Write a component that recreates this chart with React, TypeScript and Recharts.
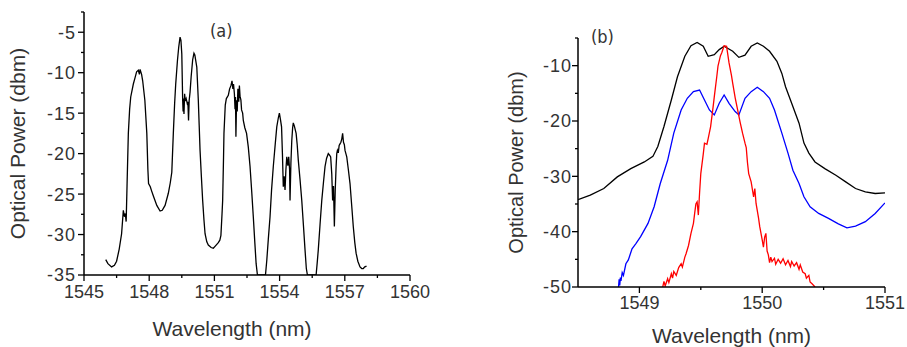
import React from 'react';
import { LineChart, Line, XAxis, YAxis } from 'recharts';

const FONT = 'Arial, "Liberation Sans", sans-serif';
const LETTER_FONT = '"DejaVu Sans Condensed", "Liberation Sans Narrow", Arial, sans-serif';

// ---- panel (a): spectrum ----
const wavelengthA = [
  1546.0, 1546.1, 1546.27, 1546.4, 1546.5, 1546.62, 1546.73, 1546.81, 1546.86, 1546.9, 1546.94, 1546.98,
  1547.04, 1547.1, 1547.15, 1547.27, 1547.35, 1547.42, 1547.5, 1547.55, 1547.58, 1547.65, 1547.7, 1547.8,
  1547.89, 1547.94, 1547.97, 1548.05, 1548.11, 1548.2, 1548.35, 1548.5, 1548.6, 1548.73, 1548.88, 1548.97,
  1549.04, 1549.11, 1549.17, 1549.22, 1549.3, 1549.36, 1549.42, 1549.46, 1549.5, 1549.54, 1549.56, 1549.58,
  1549.6, 1549.63, 1549.66, 1549.7, 1549.75, 1549.78, 1549.81, 1549.84, 1549.88, 1549.93, 1550.0, 1550.06,
  1550.1, 1550.19, 1550.26, 1550.3, 1550.34, 1550.4, 1550.46, 1550.52, 1550.57, 1550.65, 1550.72, 1550.85,
  1550.95, 1551.05, 1551.18, 1551.25, 1551.3, 1551.35, 1551.38, 1551.42, 1551.44, 1551.5, 1551.55, 1551.64,
  1551.7, 1551.76, 1551.81, 1551.85, 1551.88, 1551.92, 1551.95, 1551.97, 1551.99, 1552.02, 1552.05, 1552.08,
  1552.12, 1552.15, 1552.18, 1552.22, 1552.25, 1552.3, 1552.33, 1552.4, 1552.48, 1552.56, 1552.64, 1552.72,
  1552.79, 1552.86, 1552.92, 1552.98, 1553.35, 1553.41, 1553.48, 1553.56, 1553.63, 1553.71, 1553.8, 1553.87,
  1553.94, 1553.99, 1554.04, 1554.09, 1554.13, 1554.17, 1554.21, 1554.25, 1554.29, 1554.33, 1554.38, 1554.42,
  1554.46, 1554.48, 1554.52, 1554.56, 1554.6, 1554.63, 1554.68, 1554.76, 1554.81, 1554.86, 1554.94, 1555.02,
  1555.1, 1555.17, 1555.23, 1555.28, 1555.68, 1555.73, 1555.78, 1555.86, 1555.94, 1556.02, 1556.09, 1556.16,
  1556.24, 1556.3, 1556.35, 1556.4, 1556.44, 1556.48, 1556.52, 1556.56, 1556.6, 1556.63, 1556.66, 1556.7,
  1556.74, 1556.78, 1556.82, 1556.86, 1556.9, 1556.94, 1556.98, 1557.01, 1557.05, 1557.09, 1557.16, 1557.24,
  1557.32, 1557.39, 1557.46, 1557.52, 1557.6, 1557.7, 1557.78, 1557.85, 1557.92, 1558.0,
];
const powerA = [
  -33.1, -33.6, -34.0, -33.8, -33.3, -31.8, -29.9, -27.0, -27.8, -27.4, -28.4, -24.0,
  -17.5, -14.5, -13.0, -11.4, -10.6, -9.9, -9.7, -10.2, -9.6, -10.2, -11.0, -13.4,
  -17.5, -22.0, -23.7, -24.1, -24.6, -25.3, -26.4, -27.1, -27.0, -26.4, -24.9, -23.6,
  -22.3, -17.5, -13.8, -11.4, -8.5, -6.8, -5.6, -6.0, -7.7, -13.4, -14.8, -13.2,
  -15.1, -12.6, -13.5, -13.2, -13.8, -13.6, -15.9, -13.4, -12.4, -10.5, -8.4, -7.6,
  -7.8, -9.3, -13.4, -16.5, -19.6, -22.8, -25.8, -28.2, -29.9, -30.9, -31.3, -31.6,
  -31.7, -31.4, -31.0, -30.7, -30.1, -27.5, -25.8, -20.5, -17.5, -14.0, -13.2, -12.8,
  -12.0, -11.6, -11.0, -12.0, -11.4, -12.6, -14.5, -13.0, -17.9, -13.4, -14.8, -12.0,
  -13.6, -11.6, -12.9, -13.4, -14.6, -15.0, -15.9, -16.8, -17.5, -19.2, -21.6, -24.8,
  -27.8, -31.0, -33.6, -35, -35, -33.2, -30.6, -27.8, -24.5, -21.6, -18.8, -16.7,
  -15.6, -15.0, -15.8, -16.7, -20.0, -24.1, -22.8, -24.5, -22.0, -20.4, -21.5, -20.4,
  -22.0, -25.8, -21.2, -18.4, -16.8, -16.2, -16.6, -17.5, -18.9, -20.8, -23.2, -25.8,
  -29.0, -31.9, -34.2, -35, -35, -33.5, -31.9, -28.8, -25.8, -23.5, -21.6, -20.6,
  -20.0, -20.2, -20.4, -22.5, -25.8, -24.0, -29.0, -24.5, -21.6, -20.0, -19.6, -19.9,
  -19.0, -18.8, -18.6, -18.2, -17.5, -18.6, -18.9, -19.6, -20.0, -20.4, -21.9, -23.7,
  -26.5, -29.0, -31.0, -32.3, -33.3, -34.0, -34.2, -34.2, -34.0, -33.9,
];
const xTicksA = [1545, 1546.5, 1548, 1549.5, 1551, 1552.5, 1554, 1555.5, 1557, 1558.5, 1560];
const xLabelsA = [1545, 1548, 1551, 1554, 1557, 1560];
const yTicksA = [-35, -32.5, -30, -27.5, -25, -22.5, -20, -17.5, -15, -12.5, -10, -7.5, -5, -2.5];
const yLabelsA = [-35, -30, -25, -20, -15, -10, -5];

// ---- panel (b): three spectra ----
const wavelengthBlack = [
  1548.5, 1548.6, 1548.71, 1548.82, 1548.93, 1549.04, 1549.11, 1549.15, 1549.2, 1549.26, 1549.31, 1549.37,
  1549.42, 1549.47, 1549.52, 1549.56, 1549.61, 1549.65, 1549.69, 1549.76, 1549.81, 1549.86, 1549.91, 1549.96,
  1550.01, 1550.06, 1550.12, 1550.16, 1550.19, 1550.24, 1550.3, 1550.34, 1550.38, 1550.43, 1550.51, 1550.6,
  1550.68, 1550.76, 1550.84, 1550.92, 1551.0,
];
const powerBlack = [
  -34.2, -33.4, -32.2, -30.1, -28.6, -27.4, -26.4, -24.6, -21.0, -16.2, -12.0, -8.3,
  -6.4, -5.8, -6.5, -8.3, -8.0, -7.1, -6.5, -7.4, -8.5, -8.1, -6.5, -5.9,
  -6.5, -7.4, -9.2, -11.4, -13.8, -16.8, -20.4, -24.0, -25.8, -27.4, -28.6, -29.8,
  -31.0, -32.2, -32.8, -33.1, -33.0,
];
const wavelengthBlue = [
  1548.83, 1548.835, 1548.84, 1548.845, 1548.85, 1548.86, 1548.87, 1548.89, 1548.91, 1548.94, 1548.97, 1549.01,
  1549.07, 1549.12, 1549.17, 1549.23, 1549.28, 1549.34, 1549.39, 1549.44, 1549.49, 1549.53, 1549.57, 1549.61,
  1549.65, 1549.69, 1549.73, 1549.78, 1549.81, 1549.86, 1549.91, 1549.96, 1550.01, 1550.06, 1550.1, 1550.16,
  1550.21, 1550.25, 1550.3, 1550.34, 1550.39, 1550.46, 1550.54, 1550.62, 1550.69, 1550.76, 1550.84, 1550.92,
  1551.0,
];
const powerBlue = [
  -50, -48.6, -49.7, -48.3, -48.9, -47.4, -47.9, -45.8, -45.1, -43.1, -42.2, -40.9,
  -38.5, -35.5, -31.3, -27.1, -22.2, -18.0, -15.9, -14.7, -14.4, -16.2, -18.0, -18.9,
  -16.8, -15.3, -16.8, -18.3, -18.9, -15.9, -14.7, -13.9, -14.7, -15.9, -18.0, -22.2,
  -25.8, -28.9, -31.3, -33.7, -35.5, -36.7, -37.6, -38.6, -39.3, -39.0, -38.2, -36.7,
  -34.8,
];
const wavelengthRed = [
  1549.19, 1549.2, 1549.21, 1549.23, 1549.24, 1549.26, 1549.27, 1549.28, 1549.3, 1549.32, 1549.34, 1549.35,
  1549.37, 1549.38, 1549.4, 1549.42, 1549.44, 1549.45, 1549.46, 1549.47, 1549.48, 1549.49, 1549.5, 1549.52,
  1549.53, 1549.55, 1549.56, 1549.58, 1549.6, 1549.61, 1549.63, 1549.64, 1549.66, 1549.67, 1549.69, 1549.71,
  1549.73, 1549.75, 1549.76, 1549.78, 1549.8, 1549.82, 1549.84, 1549.86, 1549.87, 1549.88, 1549.89, 1549.91,
  1549.93, 1549.94, 1549.95, 1549.97, 1549.98, 1550.0, 1550.01, 1550.02, 1550.03, 1550.04, 1550.05, 1550.06,
  1550.07, 1550.08, 1550.1, 1550.11, 1550.13, 1550.15, 1550.17, 1550.19, 1550.21, 1550.23, 1550.24, 1550.26,
  1550.28, 1550.3, 1550.31, 1550.33, 1550.35, 1550.36, 1550.38, 1550.39, 1550.41, 1550.43,
];
const powerRed = [
  -50, -49.0, -49.8, -48.5, -49.2, -47.6, -48.4, -47.2, -47.9, -46.5, -45.8, -46.4,
  -44.6, -44.0, -42.5, -40.3, -38.5, -36.7, -35.0, -34.6, -37.0, -33.0, -29.5, -26.0,
  -24.0, -24.2, -23.2, -21.0, -17.5, -15.6, -12.0, -10.1, -8.2, -7.7, -6.4, -6.5,
  -9.5, -11.8, -13.2, -15.8, -18.0, -20.2, -22.2, -24.0, -24.8, -27.5, -29.5, -31.0,
  -33.7, -32.2, -34.9, -37.5, -39.1, -41.5, -42.8, -41.0, -40.3, -43.5, -44.2, -45.6,
  -44.6, -45.4, -44.8, -45.9, -45.0, -45.7, -44.9, -46.0, -45.2, -46.3, -45.4, -46.2,
  -45.6, -46.8, -46.0, -47.3, -47.6, -48.4, -47.9, -49.1, -49.5, -50,
];
const xTicksB = [1549, 1549.5, 1550, 1550.5, 1551];
const xLabelsB = [1549, 1550, 1551];
const yTicksB = [-50, -45, -40, -35, -30, -25, -20, -15, -10, -5];
const yLabelsB = [-50, -40, -30, -20, -10];

const zip = (xs: number[], ys: number[]) => xs.map((wl, i) => ({ wl, p: ys[i] }));

const dataA = zip(wavelengthA, powerA);
const dataBlack = zip(wavelengthBlack, powerBlack);
const dataBlue = zip(wavelengthBlue, powerBlue);
const dataRed = zip(wavelengthRed, powerRed);

const textStyle = (size: number) => ({ fontFamily: FONT, fontSize: size, fill: '#333' });

const makeXTick = (labels: number[], size: number, gap: number) => (props: any) => {
  const { x, y, payload } = props;
  const major = labels.includes(payload.value);
  return (
    <g>
      <line x1={x} y1={y} x2={x} y2={y + (major ? 6 : 3)} stroke="#000" strokeWidth={1.3} />
      {major && (
        <text x={x} y={y + gap} dy="0.71em" textAnchor="middle" style={textStyle(size)}>
          {payload.value}
        </text>
      )}
    </g>
  );
};

const makeYTick = (labels: number[], size: number, gap: number) => (props: any) => {
  const { x, y, payload } = props;
  const major = labels.includes(payload.value);
  return (
    <g>
      <line x1={x} y1={y} x2={x - (major ? 6 : 3)} y2={y} stroke="#000" strokeWidth={1.3} />
      {major && (
        <text x={x - gap} y={y} dy="0.36em" textAnchor="end" style={{ ...textStyle(size), letterSpacing: 1 }}>
          {payload.value}
        </text>
      )}
    </g>
  );
};

const xTitle = (dx: number, dy: number) => (props: any) => {
  const vb = props.viewBox || {};
  return (
    <text x={vb.x + vb.width / 2 + dx} y={vb.y + dy} textAnchor="middle" style={textStyle(21)}>
      Wavelength (nm)
    </text>
  );
};

const yTitle = (baseX: number, size: number) => (props: any) => {
  const vb = props.viewBox || {};
  const cy = vb.y + vb.height / 2;
  return (
    <text x={baseX} y={cy} transform={`rotate(-90, ${baseX}, ${cy})`} textAnchor="middle" style={textStyle(size)}>
      Optical Power (dbm)
    </text>
  );
};

const axisLine = { stroke: '#000', strokeWidth: 1.5 };

export default function App() {
  return (
    <div style={{ position: 'absolute', left: 0, top: 0, width: 907, height: 347, background: '#fff' }}>
      <div style={{ position: 'absolute', left: 0, top: 0 }}>
        <LineChart width={450} height={347} data={dataA} margin={{ top: 12, right: 40, bottom: 0, left: 0 }}>
          <XAxis
            dataKey="wl"
            type="number"
            domain={[1545, 1560]}
            ticks={xTicksA}
            interval={0}
            height={72}
            tickSize={0}
            tickMargin={0}
            axisLine={axisLine}
            tick={makeXTick(xLabelsA, 18, 10)}
            label={xTitle(-15, 61)}
          />
          <YAxis
            type="number"
            domain={[-35, -2.5]}
            ticks={yTicksA}
            interval={0}
            width={84}
            tickSize={0}
            tickMargin={0}
            allowDataOverflow
            axisLine={axisLine}
            tick={makeYTick(yLabelsA, 18, 8)}
            label={yTitle(25, 21)}
          />
          <Line type="linear" dataKey="p" stroke="#000" strokeWidth={1.3} dot={false} isAnimationActive={false} />
        </LineChart>
      </div>
      <div style={{ position: 'absolute', left: 450, top: 0 }}>
        <LineChart width={457} height={347} margin={{ top: 38, right: 22, bottom: 0, left: 0 }}>
          <XAxis
            dataKey="wl"
            type="number"
            domain={[1548.5, 1551]}
            ticks={xTicksB}
            interval={0}
            height={60}
            tickSize={0}
            tickMargin={0}
            allowDataOverflow
            axisLine={axisLine}
            tick={makeXTick(xLabelsB, 18, 9)}
            label={xTitle(0, 56)}
          />
          <YAxis
            type="number"
            domain={[-50, -5]}
            ticks={yTicksB}
            interval={0}
            width={128}
            tickSize={0}
            tickMargin={0}
            allowDataOverflow
            axisLine={axisLine}
            tick={makeYTick(yLabelsB, 18, 6)}
            label={yTitle(73, 20)}
          />
          <Line data={dataBlack} type="linear" dataKey="p" stroke="#000" strokeWidth={1.3} dot={false} isAnimationActive={false} />
          <Line data={dataBlue} type="linear" dataKey="p" stroke="#0000ff" strokeWidth={1.3} dot={false} isAnimationActive={false} />
          <Line data={dataRed} type="linear" dataKey="p" stroke="#ff0000" strokeWidth={1.3} dot={false} isAnimationActive={false} />
        </LineChart>
      </div>
      <div style={{ position: 'absolute', left: 210, top: 20, fontFamily: LETTER_FONT, fontSize: 18, color: '#333' }}>(a)</div>
      <div style={{ position: 'absolute', left: 591, top: 26, fontFamily: LETTER_FONT, fontSize: 18, color: '#333' }}>(b)</div>
    </div>
  );
}
